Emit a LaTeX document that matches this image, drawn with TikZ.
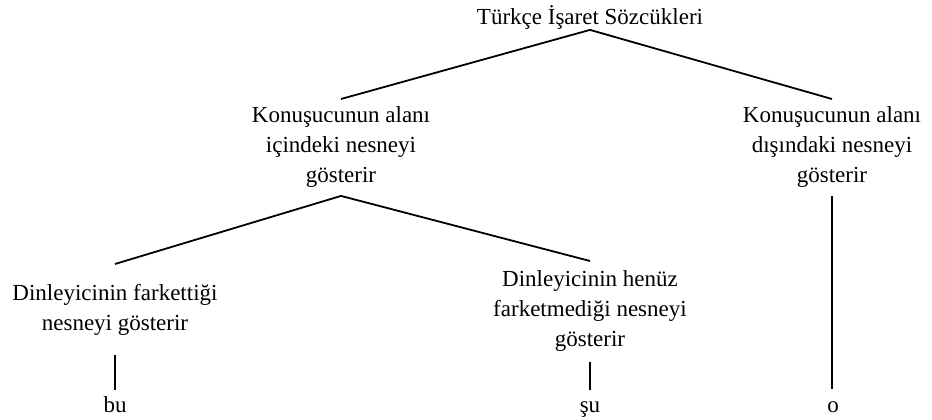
\documentclass[tikz,border=0pt]{standalone}
\usepackage{fontspec}
\setmainfont{Liberation Serif}
\usepackage{tikz}

\begin{document}
\begin{tikzpicture}[x=1pt,y=-1pt,line width=1.8pt,
  word/.style={inner sep=0pt,align=center,outer ysep=#1},
  word/.default=6pt,
  font=\fontsize{23}{30}\selectfont]
\useasboundingbox (0,0) rectangle (932,420);

\node [word=0pt,anchor=base] (root) at (590,25) {Türkçe İşaret Sözcükleri};

\node [word=8pt,anchor=north] (kin) at (341,99) {Konuşucunun alanı\\içindeki nesneyi\\gösterir};
\node [word=8pt,anchor=north] (kout) at (832,99) {Konuşucunun alanı\\dışındaki nesneyi\\gösterir};

\node [word=20pt,anchor=north] (dfark) at (115,264) {Dinleyicinin farkettiği\\nesneyi gösterir};
\node [word=10pt,anchor=north] (dhenuz) at (590,261) {Dinleyicinin henüz\\farketmediği nesneyi\\gösterir};

\node [word=6pt,anchor=base] (bu) at (115,412) {bu};
\node [word=11pt,anchor=base] (su) at (590,412) {şu};
\node [word=12pt,anchor=base] (o) at (833,412) {o};

\draw (root.south) -- (kin.north);
\draw (root.south) -- (kout.north);
\draw (kin.south) -- (dfark.north);
\draw (kin.south) -- (dhenuz.north);
\draw (dfark.south) -- (bu.north);
\draw (dhenuz.south) -- (su.north);
\draw (kout.south) -- (kout.south |- o.north);
\end{tikzpicture}
\end{document}
